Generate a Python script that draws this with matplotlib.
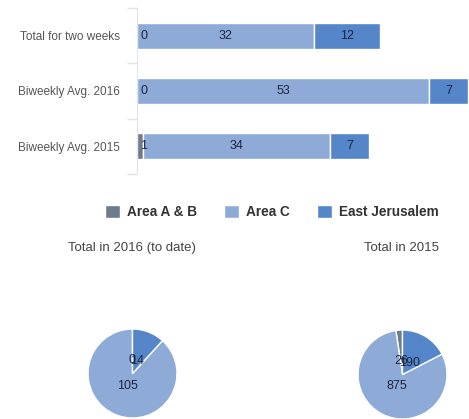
"""Stacked bars of demolitions by area plus two yearly pies"""

import matplotlib.pyplot as plt
import numpy as np

plt.rcParams["font.family"] = ["Liberation Sans", "DejaVu Sans"]

# Data
categories = ["Total for two weeks", "Biweekly Avg. 2016", "Biweekly Avg. 2015"]
area_ab = [0, 0, 1]
area_c = [32, 53, 34]
east_jer = [12, 7, 7]

series_names = ["Area A & B", "Area C", "East Jerusalem"]
colors = ["#6e7b8f", "#8eabd8", "#5486c9"]

pie_titles = ["Total in 2016 (to date)", "Total in 2015"]
pie_2016 = [0, 105, 14]
pie_2015 = [26, 875, 190]

fig = plt.figure(figsize=(4.69, 4.19), dpi=100)
W, H = 469, 419


def box(x0, y0, x1, y1):
    # pixel box -> figure fraction
    return [x0 / W, 1 - y1 / H, (x1 - x0) / W, (y1 - y0) / H]


# Bar chart
ax = fig.add_axes(box(137, 8, 468, 174))
y = np.arange(len(categories))
left = np.zeros(len(categories))
for name, vals, col in zip(series_names, [area_ab, area_c, east_jer], colors):
    vals = np.array(vals, dtype=float)
    ax.barh(y, vals, left=left, height=0.47, color=col, edgecolor="white",
            linewidth=1, label=name)
    for yi, (l, v) in enumerate(zip(left, vals)):
        if name == "Area A & B":
            ax.annotate(str(int(v)), xy=(0, yi), xytext=(5, 0),
                        textcoords="offset points", ha="center", va="center",
                        fontsize=9, color="#1c2540")
        else:
            ax.text(l + v / 2, yi, str(int(v)), ha="center", va="center",
                    fontsize=9, color="#1c2540")
    left += vals

ax.set_xlim(0, 60)
ax.set_ylim(len(categories) - 0.5, -0.5)
ax.set_yticks(y)
ax.set_yticklabels(categories, fontsize=8.5, color="#555555")
ax.set_yticks(np.arange(-0.5, len(categories), 1), minor=True)
ax.tick_params(axis="y", which="major", length=0, pad=12)
ax.tick_params(axis="y", which="minor", length=7, color="#e3e3e3", width=1)
ax.set_xticks([])
for s in ["top", "right", "bottom"]:
    ax.spines[s].set_visible(False)
ax.spines["left"].set_color("#e3e3e3")

# Legend
handles, labels = ax.get_legend_handles_labels()
fig.legend(handles, labels, loc="center", bbox_to_anchor=(272 / W, 1 - 212 / H),
           ncol=3, frameon=False, handlelength=1.1, handleheight=1.1,
           handletextpad=0.5, columnspacing=2.0,
           prop={"weight": "bold", "size": 9.8})
for t in fig.legends[0].get_texts():
    t.set_color("#333333")

# Pies
pie_boxes = [box(88, 329, 177, 418), box(358, 330, 447, 419)]
for title, vals, b, cx in zip(pie_titles, [pie_2016, pie_2015], pie_boxes, [132, 402]):
    pax = fig.add_axes(b)
    pax.pie(vals, colors=colors, startangle=90, counterclock=True,
            labels=[str(v) for v in vals], labeldistance=0.3,
            wedgeprops={"edgecolor": "white", "linewidth": 1},
            textprops={"fontsize": 9, "color": "#1c2540", "ha": "center"})
    pax.set_xlim(-1, 1)
    pax.set_ylim(-1, 1)
    pax.set_aspect("equal")
    fig.text(cx / W, 1 - 248 / H, title, ha="center", va="center",
             fontsize=9.5, color="#444444")

fig.savefig("out.png", dpi=100)
